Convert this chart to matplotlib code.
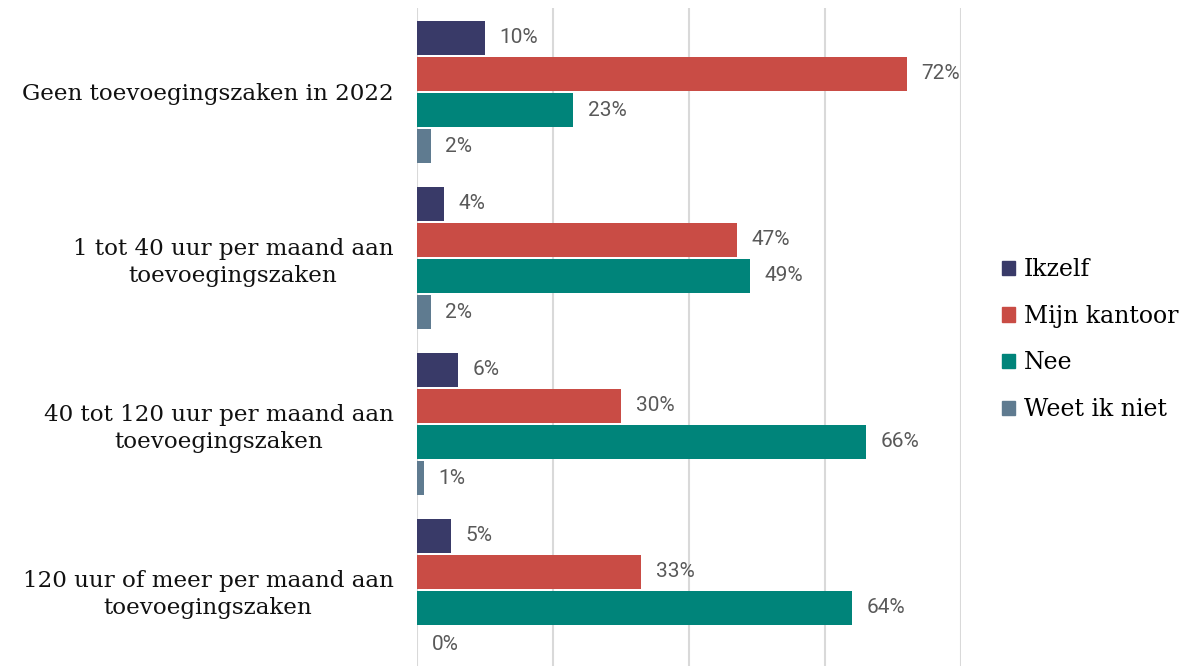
import numpy as np
import matplotlib.pyplot as plt
from matplotlib.patches import Patch

categories = [
    "Geen toevoegingszaken in 2022",
    "1 tot 40 uur per maand aan\ntoevoegingszaken",
    "40 tot 120 uur per maand aan\ntoevoegingszaken",
    "120 uur of meer per maand aan\ntoevoegingszaken",
]
series = ["Ikzelf", "Mijn kantoor", "Nee", "Weet ik niet"]
ikzelf = [10, 4, 6, 5]
mijn_kantoor = [72, 47, 30, 33]
nee = [23, 49, 66, 64]
weet_niet = [2, 2, 1, 0]
values = [ikzelf, mijn_kantoor, nee, weet_niet]
colors = ["#393a68", "#c94c45", "#00847a", "#5f7b90"]

serif = ["DejaVu Serif"]

fig = plt.figure(figsize=(12.02, 6.66), dpi=100)
ax = fig.add_axes([417 / 1202, 0, (961 - 417) / 1202, 1 - 8 / 666])

y = np.arange(len(categories))
pitch = 0.217
height = 0.2
for k, (name, vals, col) in enumerate(zip(series, values, colors)):
    pos = y + (k - 1.5) * pitch
    ax.barh(pos, vals, height=height, color=col, zorder=3)
    for p, v in zip(pos, vals):
        ax.annotate(f"{v}%", (v, p), xytext=(10.5, 0), textcoords="offset points",
                    ha="left", va="center", fontsize=15, color="#595959",
                    family="Roboto")

ax.set_xlim(0, 80)
ax.set_ylim(3.458, -0.506)
ax.set_xticks([0, 20, 40, 60, 80])
ax.grid(axis="x", color="#d9d9d9", linewidth=1.5, zorder=0)
ax.tick_params(left=False, bottom=False, labelbottom=False)
ax.set_yticks(y)
ax.set_yticklabels(categories, family=serif, fontsize=16.6, color="#111111",
                   multialignment="center", linespacing=1.25)
ax.tick_params(axis="y", pad=13.5)
for s in ax.spines.values():
    s.set_visible(False)

handles = [Patch(color=c, label=n) for n, c in zip(series, colors)]
fig.legend(handles=handles, loc="center left", bbox_to_anchor=(981 / 1202, 0.49),
           frameon=False, prop={"family": serif, "size": 17},
           handlelength=0.55, handleheight=0.55, handletextpad=0.35,
           labelspacing=1.0)

fig.savefig("out.png", dpi=100)
